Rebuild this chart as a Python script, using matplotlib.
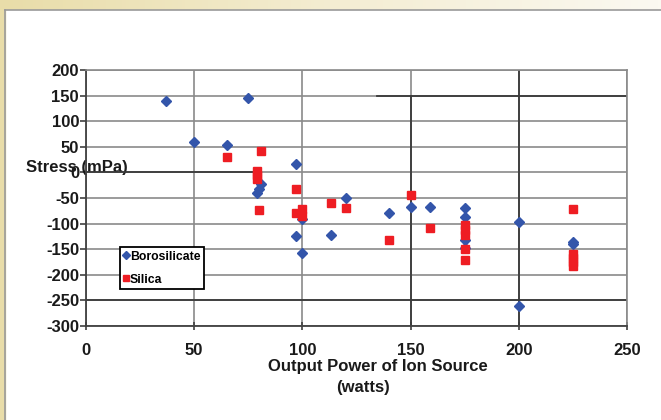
import matplotlib.pyplot as plt
import numpy as np
from matplotlib.colors import LinearSegmentedColormap
from matplotlib.lines import Line2D

plt.rcParams['font.family'] = ['Liberation Sans', 'DejaVu Sans']
plt.rcParams['axes.unicode_minus'] = False

# Borosilicate samples (watts, mPa)
boro_power = [37, 50, 65, 75, 79, 80, 81, 97, 97, 100, 100, 113, 120,
              140, 150, 159, 175, 175, 175, 175, 200, 200, 225, 225]
boro_stress = [140, 59, 54, 145, -40, -32, -22, 16, -125, -91, -158, -122, -50,
               -80, -67, -67, -70, -87, -132, -148, -97, -260, -135, -140]

# Silica samples (watts, mPa)
silica_power = [65, 81, 79, 79, 79, 80, 97, 97, 100, 100, 113, 120, 140,
                150, 159, 175, 175, 175, 175, 175, 225, 225, 225, 225, 225]
silica_stress = [31, 42, 3, -5, -12, -73, -33, -80, -72, -85, -60, -70, -133,
                 -44, -109, -103, -113, -123, -150, -172, -71, -160, -167, -175, -182]

x_ticks = [0, 50, 100, 150, 200, 250]
y_ticks = [-300, -250, -200, -150, -100, -50, 0, 50, 100, 150, 200]

W, H = 661, 420
fig = plt.figure(figsize=(W / 100, H / 100), dpi=100)
fig.patch.set_facecolor('white')

# beige frame around the white panel
bg = fig.add_axes([0, 1 - 10 / H, 1, 10 / H], zorder=-5)
cmap = LinearSegmentedColormap.from_list('beige', ['#E9DDA9', '#F4EDD2', '#FBF9F1'])
bg.imshow(np.linspace(0, 1, 200)[None, :], aspect='auto', cmap=cmap, extent=[0, 1, 0, 1])
bg.axis('off')
fig.patches.append(plt.Rectangle((0, 0), 5 / W, 1, transform=fig.transFigure,
                                 color='#E9DDA9', zorder=-6))
fig.lines.append(Line2D([5 / W, 5 / W], [0, 1 - 10 / H], transform=fig.transFigure,
                        color='#9a9a9a', lw=1.2))
fig.lines.append(Line2D([5 / W, 1], [1 - 10 / H, 1 - 10 / H], transform=fig.transFigure,
                        color='#9a9a9a', lw=1.2))

ax = fig.add_axes([86 / W, 1 - 326 / H, 541 / W, 256 / H])
ax.plot(boro_power, boro_stress, linestyle='none', marker='D', ms=5.6,
        color='#3355AA', label='Borosilicate', zorder=3)
ax.plot(silica_power, silica_stress, linestyle='none', marker='s', ms=5.8,
        color='#EE1D23', label='Silica', zorder=4)

ax.set_xlim(0, 250)
ax.set_ylim(-300, 200)
ax.set_xticks(x_ticks)
ax.set_yticks(y_ticks)
ax.grid(color='#8a8a8a', lw=1.2)
ax.set_axisbelow(True)

# darker grid segments as in the scanned original
dark = '#3a3a3a'
ax.axhline(0, xmax=0.31, color=dark, lw=1.3, zorder=1)
ax.axhline(150, xmin=0.537, color=dark, lw=1.3, zorder=1)
ax.axhline(-250, color=dark, lw=1.3, zorder=1)
ax.axvline(150, ymax=0.90, color=dark, lw=1.3, zorder=1)
ax.axvline(200, color=dark, lw=1.3, zorder=1)

for s in ['left', 'bottom']:
    ax.spines[s].set_color('#404040')
    ax.spines[s].set_linewidth(1.3)
for s in ['top', 'right']:
    ax.spines[s].set_color('#8a8a8a')
    ax.spines[s].set_linewidth(1.2)

ax.tick_params(axis='x', direction='inout', length=6, width=1.2, pad=9,
               labelsize=12, color='#404040')
ax.tick_params(axis='y', direction='out', length=4, width=1.2, pad=1,
               labelsize=12, color='#404040')
for lbl in ax.get_xticklabels() + ax.get_yticklabels():
    lbl.set_fontweight('bold')
    lbl.set_color('#1a1a1a')

ax.set_ylabel('Stress (mPa)', rotation=0, fontsize=12, fontweight='bold',
              ha='center', va='center', color='#1a1a1a')
ax.yaxis.set_label_coords(-0.017, 0.621)

ax.text(0.54, -0.160, 'Output Power of Ion Source', transform=ax.transAxes,
        ha='center', va='center', fontsize=12, fontweight='bold', color='#1a1a1a')
ax.text(0.512, -0.242, '(watts)', transform=ax.transAxes,
        ha='center', va='center', fontsize=12, fontweight='bold', color='#1a1a1a')

leg = ax.legend(loc='upper left', bbox_to_anchor=(120 / W, 1 - 247 / H),
                bbox_transform=fig.transFigure, frameon=True, fancybox=False,
                edgecolor='black', framealpha=1, prop={'weight': 'bold', 'size': 8.8},
                handlelength=0.4, handletextpad=0.1, borderpad=0.3,
                borderaxespad=0, labelspacing=0.9, markerscale=0.75)
leg.get_frame().set_linewidth(1.3)

fig.savefig('out.png', dpi=100)
